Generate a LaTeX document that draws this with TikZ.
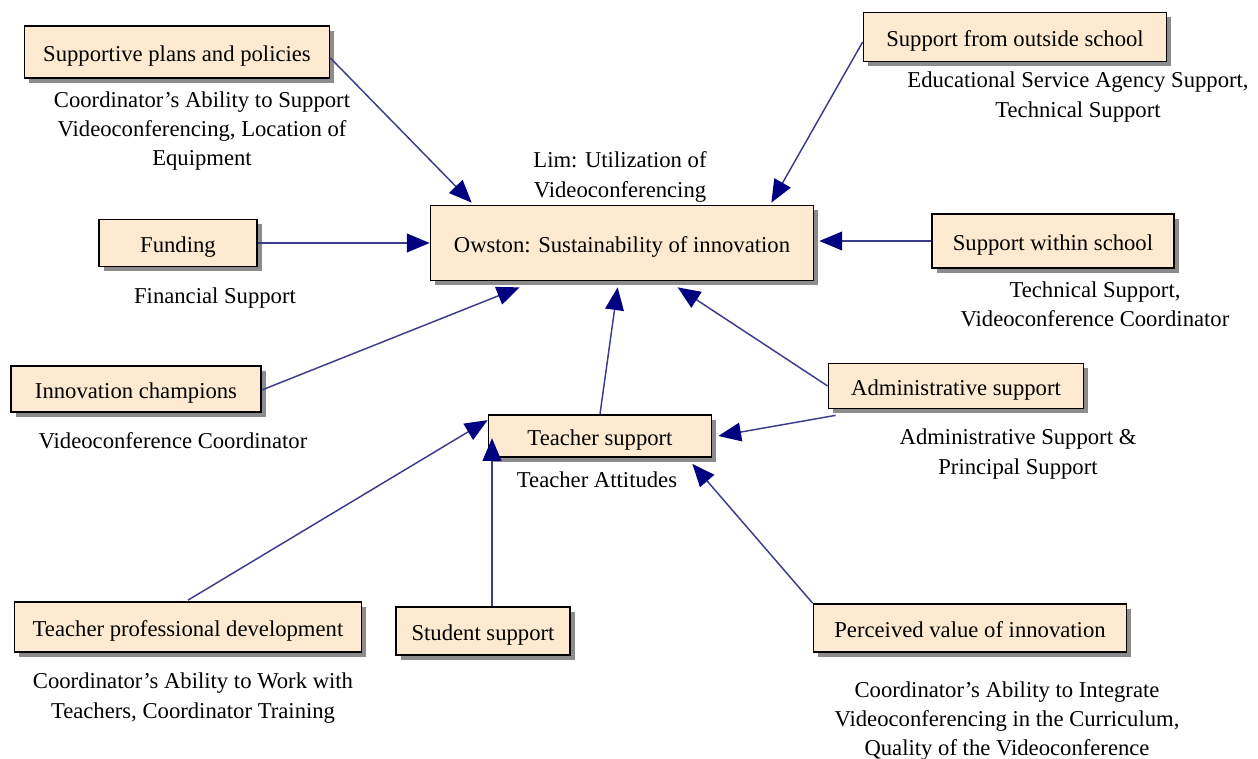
\documentclass[tikz,border=0pt]{standalone}
\usepackage{fontspec}
\setmainfont{Liberation Serif}
\usetikzlibrary{arrows.meta,shadows,calc}
\definecolor{boxfill}{RGB}{253,234,208}
\definecolor{edgecol}{RGB}{60,60,140}
\definecolor{headcol}{RGB}{0,0,128}
\definecolor{shadowcol}{RGB}{140,140,140}
\begin{document}
\begin{tikzpicture}[x=0.75pt,y=-0.75pt,
 box/.style={draw=black, line width=1.3pt, fill=boxfill, font=\fontsize{17}{22}\selectfont, inner sep=0pt,
   text height=14pt, text depth=0pt,
   drop shadow={shadow xshift=3.5pt, shadow yshift=-3.5pt, fill=shadowcol, opacity=1}},
 lbl/.style={align=center, font=\fontsize{17}{22}\selectfont, inner sep=0pt},
 conn/.style={draw=edgecol, line width=1.1pt, -{Triangle[length=17pt,width=14pt,color=headcol]}}]
\useasboundingbox[fill=white] (0,0) rectangle (1258,759);

\node[box, minimum width=305*0.75pt, minimum height=52*0.75pt] (sp) at (177,52) {Supportive plans and policies};
\node[box, minimum width=303*0.75pt, minimum height=49*0.75pt] (so) at (1015,37) {Support from outside school};
\node[box, minimum width=383*0.75pt, minimum height=75*0.75pt] (ow) at (622,243) {Owston: Sustainability of innovation};
\node[box, minimum width=158*0.75pt, minimum height=47*0.75pt] (fu) at (178,243) {Funding};
\node[box, minimum width=242*0.75pt, minimum height=54*0.75pt] (sw) at (1053,241) {Support within school};
\node[box, minimum width=250*0.75pt, minimum height=46*0.75pt] (ic) at (136,389) {Innovation champions};
\node[box, minimum width=255*0.75pt, minimum height=45*0.75pt] (ad) at (956,386) {Administrative support};
\node[box, minimum width=223*0.75pt, minimum height=42*0.75pt] (ts) at (600,436) {Teacher support};
\node[box, minimum width=347*0.75pt, minimum height=50*0.75pt] (tp) at (188,627) {Teacher professional development};
\node[box, minimum width=174*0.75pt, minimum height=48*0.75pt] (ss) at (483,631) {Student support};
\node[box, minimum width=313*0.75pt, minimum height=48*0.75pt] (pv) at (970,628) {Perceived value of innovation};

\node[lbl] (l1) at (202,131) {Coordinator's Ability to Support\\Videoconferencing, Location of\\Equipment};
\node[lbl] (l2) at (620,177) {Lim: Utilization of\\Videoconferencing};
\node[lbl] (l3) at (1078,97) {Educational Service Agency Support,\\Technical Support};
\node[lbl] (l4) at (215,298) {Financial Support};
\node[lbl] (l5) at (1095,304) {Technical Support,\\Videoconference Coordinator};
\node[lbl] (l6) at (173,441) {Videoconference Coordinator};
\node[lbl] (l7) at (1018,454) {Administrative Support \&\\Principal Support};
\node[lbl] (l8) at (597,480) {Teacher Attitudes};
\node[lbl] (l9) at (193,698) {Coordinator's Ability to Work with\\Teachers, Coordinator Training};
\node[lbl] (l10) at (1007,721) {Coordinator's Ability to Integrate\\Videoconferencing in the Curriculum,\\Quality of the Videoconference};

\draw[conn] ($(sp.east)+(0,6)$) -- ($(ow.north west)+(42,-2)$);
\draw[conn] ($(so.west)+(0,5)$) -- ($(ow.north east)+(-43,-2)$);
\draw[conn] (fu.east) -- (ow.west);
\draw[conn] (sw.west) -- ($(sw.west -| ow.east)+(5,0)$);
\draw[conn] ($(ic.east)+(0,1)$) -- ($(ow.south west)+(90,6)$);
\draw[conn] (ts.north) -- ($(ow.south west)+(188,6)$);
\draw[conn] (ad.west) -- ($(ow.south west)+(248,6)$);
\draw[conn] ($(ad.south west)+(8,6)$) -- ($(ts.east)+(6,0)$);
\draw[conn] ($(tp.north)+(0,-1)$) -- ($(ts.north west)+(0,6)$);
\draw[conn] ($(ss.north)+(9,0)$) -- ($(ss.north)+(9,-168)$);
\draw[conn] (pv.north west) -- ($(ts.south east)+(-20,6)$);
\end{tikzpicture}
\end{document}
